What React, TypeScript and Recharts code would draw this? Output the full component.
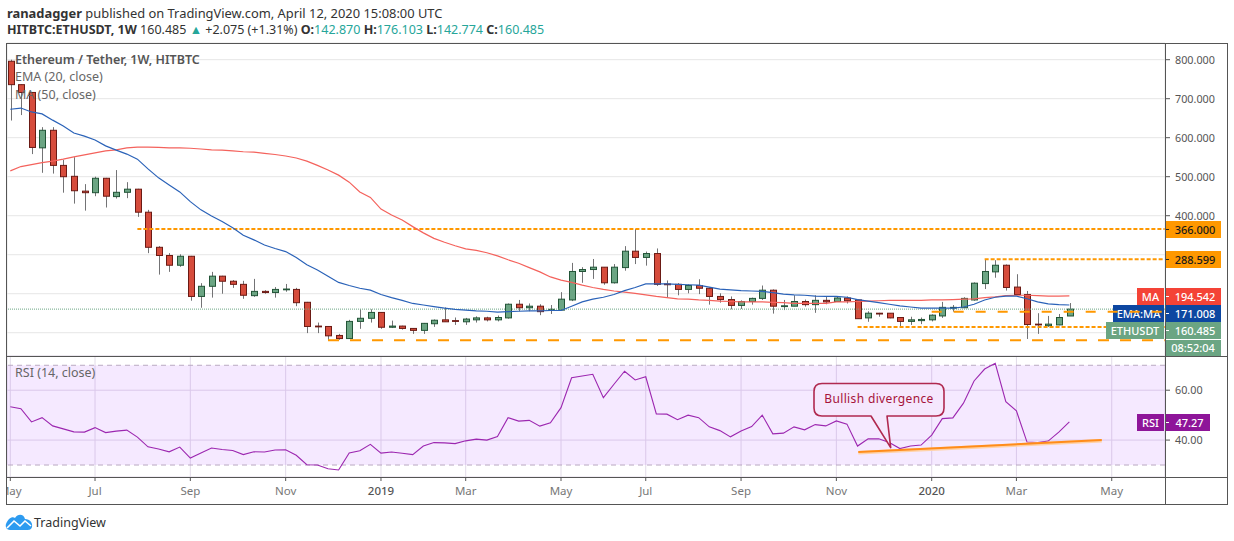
import React from "react";
import { ComposedChart, Bar, Line, XAxis, YAxis, CartesianGrid, ReferenceLine, ReferenceArea } from "recharts";

const opens = [
  796,736,716,574,619,529,501,463,459,496,
  449,460,468,409,319,298,273,296,193,219,
  245,232,224,195,206,203,210,211,178,117,
  116,93,85,129,137,152,114,117,111,106,
  123,133,131,128,133,138,133,138,173,164,
  168,157,158,184,257,262,268,228,267,309,
  293,303,225,224,211,221,214,193,185,170,
  180,188,209,167,168,180,172,183,180,189,
  184,138,150,150,139,129,131,133,143,163,
  164,184,226,256,273,217,198,122,118,120,
  142.87];
const closes = [
  736,716,575,619,529,500,464,459,496,450,
  460,468,409,319,298,273,296,193,219,245,
  232,224,196,206,203,211,212,177,116,115,
  92,85,129,137,152,114,117,111,106,124,
  132,128,129,135,138,133,139,173,164,168,
  154,160,186,257,262,268,228,268,309,293,
  303,224,223,211,221,214,193,185,170,180,
  188,209,168,169,180,172,183,179,189,182,
  136,150,148,138,129,133,134,145,165,165,
  188,227,257,273,216,198,121,120,122,139,
  160.485];
const highs = [
  800,737,717,627,627,543,550,481,500,497,
  517,486,469,415,322,304,301,297,227,256,
  246,235,233,238,209,217,225,215,179,126,
  117,97,133,160,160,153,131,118,112,125,
  134,165,139,138,142,141,144,175,184,175,
  173,171,204,279,268,289,268,276,322,366,
  308,316,234,227,224,237,216,201,193,183,
  190,221,211,184,196,185,196,192,194,193,
  185,155,151,150,140,141,139,147,179,171,
  191,229,288,286,275,250,207,150,143,148,
  176.103];
const lows = [
  644,658,558,510,508,459,431,413,450,421,
  444,445,397,304,249,256,269,182,164,190,
  200,215,187,192,200,190,205,168,99,99,
  81,82,84,110,126,110,112,108,97,97,
  115,128,120,120,126,129,129,136,155,155,
  145,148,158,181,228,238,223,226,259,276,
  272,220,190,196,201,199,172,177,160,161,
  172,184,149,158,168,167,151,173,179,175,
  136,128,141,137,113,120,122,129,138,154,
  163,182,212,241,208,198,84,97,115,119,
  142.774];
const ema20 = [
  673,676,666,661,645,630,612,604,594,579,
  568,558,545,520,497,479,461,436,415,399,
  385,369,350,338,325,316,308,293,274,261,
  245,229,221,214,209,198,190,183,175,171,
  167,163,160,158,156,155,153,154,155,156,
  156,157,157,168,179,186,191,198,208,216,
  225,225,225,224,223,222,217,212,210,208,
  207,206,203,199,197,196,194,193,193,191,
  185,181,177,173,169,166,163,163,163,163,
  166,173,184,191,194,194,187,179,174,172,
  171.008];
const ma50 = [
  515,526,531,536,540,545,551,556,561,566,
  569,574,576,576,575,574,574,573,571,569,
  568,566,564,563,560,557,553,548,540,529,
  517,504,486,461,447,417,402,389,372,356,
  342,332,323,315,311,305,297,287,278,267,
  256,243,235,229,222,216,211,207,204,201,
  197,193,190,187,186,184,183,181,180,179,
  179,179,178,177,175,175,175,175,179,179,
  180,181,182,183,183,183,183,184,184,185,
  186,187,190,192,195,196,196,195,194,194,
  194.542];
const rsi14 = [
  53.4,52.6,47.3,49,45.7,44.5,43.3,43.2,45,43,
  43.6,44,41.2,37.3,36.4,35.3,37.2,32.8,34.8,36.8,
  36.2,35.8,34.2,35.3,35.2,36,36.1,33.9,30.1,30,
  28.5,28,34.8,35.7,38.3,34.8,35.2,34.7,34.2,37.6,
  39,38.9,38.6,39.7,40.4,40,41.4,49,47.6,47.9,
  45.6,46.9,53,65,65.7,66.4,57,62.4,67.6,64.1,
  65.4,50.5,50.4,48.2,50,49,45.3,43.8,41.3,43.6,
  45.4,50,42.5,42.8,45.3,44.1,46.2,45.7,47.7,46.4,
  37.6,40.5,40.5,39,36.6,37.6,38,42,48.6,48.9,
  54.8,63.7,68.5,70.8,55.4,51.7,39.2,39,39.6,43.2,
  47.27];

const tickWeeks = [0, 8, 17, 26, 35, 43, 52, 60, 69, 78, 87, 95, 104];
const tickLabels = ["May", "Jul", "Sep", "Nov", "2019", "Mar", "May", "Jul", "Sep", "Nov", "2020", "Mar", "May"];
const priceTicks = [100, 200, 300, 400, 500, 600, 700, 800];
const rsiTicks = [40, 60];

const rows = opens.map((open, week) => ({
  week,
  open,
  high: highs[week],
  low: lows[week],
  close: closes[week],
  ema: ema20[week],
  ma: ma50[week],
  rsi: rsi14[week],
}));

const FONT = "'Noto Sans', sans-serif";
const X_DOMAIN: [number, number] = [-0.3116, 109.03];
const PRICE_DOMAIN: [number, number] = [40.3, 842.8];
const RSI_DOMAIN: [number, number] = [25.2, 73.72];
const ORANGE = "#ff9800";
const GRID = "#e6e6e6";
const GREEN = "#6ba583";

function Candle(props: any) {
  const { x, y, width, height, payload } = props;
  if (!payload) return null;
  const top = Math.min(y, y + height);
  const span = Math.abs(height);
  const range = payload.high - payload.low || 1;
  const at = (v: number) => top + ((payload.high - v) / range) * span;
  const up = payload.close >= payload.open;
  const bodyTop = at(Math.max(payload.open, payload.close));
  const bodyBot = at(Math.min(payload.open, payload.close));
  const cx = Math.round(x + width / 2) + 0.5;
  return (
    <g>
      <line x1={cx} x2={cx} y1={top} y2={top + span} stroke="#737375" strokeWidth={1} />
      <rect
        x={cx - 3}
        y={bodyTop}
        width={6}
        height={Math.max(bodyBot - bodyTop, 0.6)}
        fill={up ? GREEN : "#d64c3c"}
        stroke={up ? "#225437" : "#6b1a14"}
        strokeWidth={1}
      />
    </g>
  );
}

function TimeTick(props: any) {
  const { x, y, payload } = props;
  const i = tickWeeks.indexOf(payload.value);
  const label = tickLabels[i];
  const year = label === "2019" || label === "2020";
  return (
    <text x={x} y={y + 12} textAnchor="middle" fontFamily={FONT} fontSize={11.5} fill={year ? "#555" : "#777"} fontWeight={year ? 500 : 400}>
      {label}
    </text>
  );
}

function Badge({ left, top, width, height = 17, bg, color = "#fff", text, mark = false }: any) {
  return (
    <div
      style={{
        position: "absolute",
        left,
        top,
        width,
        height,
        background: bg,
        color,
        fontFamily: FONT,
        fontSize: 11,
        fontWeight: 500,
        lineHeight: `${height}px`,
        textAlign: "center",
        whiteSpace: "nowrap",
        paddingLeft: mark ? 4 : 0,
        boxSizing: "border-box",
      }}
    >
      {mark && <span style={{ position: "absolute", left: 0, top: Math.floor(height / 2), width: 4, height: 1, background: color === "#fff" ? "#fff" : "#222" }} />}
      {text}
    </div>
  );
}

function Rule({ left, top, width, height }: any) {
  return <div style={{ position: "absolute", left, top, width, height, background: "#555" }} />;
}

function PaneLabel({ top, text, weight = 400, color = "#666" }: any) {
  return (
    <div style={{ position: "absolute", left: 15, top, fontFamily: FONT, fontSize: 12.5, fontWeight: weight, color, lineHeight: "16px", whiteSpace: "nowrap" }}>
      {text}
    </div>
  );
}

const layer: React.CSSProperties = { position: "absolute", left: 7, top: 0, width: 1220, height: 541, overflow: "hidden" };
const teal = { color: "#26a69a" };

export default function App() {
  return (
    <div style={{ position: "absolute", left: 0, top: 0, width: 1234, height: 541, background: "#fff", overflow: "hidden" }}>
      {/* price pane */}
      <div style={layer}>
        <ComposedChart width={1220} height={541} data={rows} margin={{ top: 43, right: 0, bottom: 185, left: 0 }}>
          <CartesianGrid stroke={GRID} strokeWidth={1} />
          <XAxis dataKey="week" type="number" domain={X_DOMAIN} ticks={tickWeeks} allowDataOverflow height={0} tick={false} axisLine={false} tickLine={false} interval={0} />
          <YAxis
            orientation="right"
            width={62}
            domain={PRICE_DOMAIN}
            ticks={priceTicks}
            allowDataOverflow
            axisLine={false}
            tickSize={5}
            tickMargin={5}
            interval={0}
            tick={{ fontFamily: FONT, fontSize: 10.8, fill: "#555" }}
            tickLine={{ stroke: "#555" }}
            tickFormatter={(v: number) => (v >= 400 ? v.toFixed(3) : "")}
          />
          <ReferenceLine y={160.485} stroke={GREEN} strokeDasharray="1 1" strokeWidth={1} />
          <ReferenceLine segment={[{ x: 12, y: 366 }, { x: 109, y: 366 }]} stroke={ORANGE} strokeWidth={2} strokeDasharray="4 2" />
          <ReferenceLine segment={[{ x: 92, y: 288.599 }, { x: 109, y: 288.599 }]} stroke={ORANGE} strokeWidth={2} strokeDasharray="4 2" />
          <ReferenceLine segment={[{ x: 30, y: 81 }, { x: 109, y: 81 }]} stroke={ORANGE} strokeWidth={2} strokeDasharray="11 11" />
          <ReferenceLine segment={[{ x: 80, y: 114.6 }, { x: 109, y: 114.6 }]} stroke={ORANGE} strokeWidth={2} strokeDasharray="4 2" />
          <Line dataKey="ma" stroke="#f4625c" strokeWidth={1.2} dot={false} isAnimationActive={false} />
          <Line dataKey="ema" stroke="#2a62b8" strokeWidth={1.2} dot={false} isAnimationActive={false} />
          <Bar dataKey={(d: any) => [d.low, d.high]} barSize={7} shape={<Candle />} isAnimationActive={false} />
        </ComposedChart>
      </div>

      {/* price badges */}
      <Badge left={1165} top={221} width={56} bg={ORANGE} color="#1a1a1a" text="366.000" mark />
      <Badge left={1165} top={251} width={56} bg={ORANGE} color="#1a1a1a" text="288.599" mark />
      <Badge left={1137} top={288} width={27} bg="#f44336" text="MA" />
      <Badge left={1165} top={288} width={56} bg="#f44336" text="194.542" mark />
      <Badge left={1113} top={305} width={51} bg="#0d47a1" text="EMA:MA" />
      <Badge left={1165} top={305} width={56} bg="#0d47a1" text="171.008" mark />
      <Badge left={1106} top={322} width={58} bg={GREEN} text="ETHUSDT" />
      <Badge left={1165} top={322} width={56} bg={GREEN} text="160.485" mark />
      <Badge left={1165} top={340} width={56} height={16} bg={GREEN} text="08:52:04" />

      {/* dashed level that runs over the badges */}
      <div style={layer}>
        <ComposedChart width={1220} height={541} data={rows} margin={{ top: 43, right: 62, bottom: 185, left: 0 }}>
          <XAxis dataKey="week" type="number" domain={X_DOMAIN} allowDataOverflow hide />
          <YAxis domain={PRICE_DOMAIN} allowDataOverflow hide />
          <ReferenceLine segment={[{ x: 87, y: 154 }, { x: 109, y: 154 }]} stroke={ORANGE} strokeWidth={2} strokeDasharray="10 12" />
        </ComposedChart>
      </div>

      {/* RSI pane */}
      <div style={layer}>
        <ComposedChart width={1220} height={541} data={rows} margin={{ top: 356, right: 0, bottom: 37, left: 0 }}>
          <ReferenceArea y1={30} y2={70} fill="#9c27ff" fillOpacity={0.1} stroke="none" ifOverflow="extendDomain" />
          <CartesianGrid stroke="#e2dbe8" strokeWidth={1} />
          <XAxis
            dataKey="week"
            type="number"
            domain={X_DOMAIN}
            ticks={tickWeeks}
            allowDataOverflow
            height={27}
            axisLine={false}
            tickSize={4}
            tickLine={{ stroke: "#555" }}
            interval={0}
            tick={<TimeTick />}
          />
          <YAxis
            orientation="right"
            width={62}
            domain={RSI_DOMAIN}
            ticks={rsiTicks}
            allowDataOverflow
            axisLine={false}
            tickSize={5}
            tickMargin={5}
            interval={0}
            tick={{ fontFamily: FONT, fontSize: 10.8, fill: "#555" }}
            tickLine={{ stroke: "#555" }}
            tickFormatter={(v: number) => v.toFixed(2)}
          />
          <ReferenceLine y={70} stroke="#b9a9c2" strokeDasharray="5 4" strokeWidth={1} />
          <ReferenceLine y={30} stroke="#b9a9c2" strokeDasharray="5 4" strokeWidth={1} />
          <Line dataKey="rsi" stroke="#9c27b0" strokeWidth={1.1} dot={false} isAnimationActive={false} />
          <ReferenceLine segment={[{ x: 80.07, y: 34.9 }, { x: 103.06, y: 39.7 }]} stroke="#ffd2a6" strokeWidth={3.5} />
          <ReferenceLine segment={[{ x: 80.07, y: 35.2 }, { x: 103.06, y: 40 }]} stroke="#ff8c1a" strokeWidth={2} />
        </ComposedChart>
      </div>

      {/* callout */}
      <svg width={1234} height={541} style={{ position: "absolute", left: 0, top: 0, pointerEvents: "none" }}>
        <path
          d="M822,383.5 H936 Q944,383.5 944,391.5 V408 Q944,416 936,416 H887 L890.7,447.7 L871,416 H822 Q814,416 814,408 V391.5 Q814,383.5 822,383.5 Z"
          fill="#f5e7fd"
          stroke="#b0294f"
          strokeWidth={1.6}
          strokeLinejoin="round"
        />
        <text x={879} y={398.3} dominantBaseline="central" textAnchor="middle" fontFamily={FONT} fontSize={12} letterSpacing={0.35} fill="#a5133a">
          Bullish divergence
        </text>
        <g transform="translate(6,515)">
          <path d="M0,9 C2,4 6,1 9,3 C12,-2 18,-1 19,4 C24,4 27,8 26,12 C25,15 23,15 20,15 L4,15 C1,15 -1,12 0,9 Z" fill="#2d9bf0" />
          <path d="M1,13 L8,6 L14,11 L19,6 L25,11" fill="none" stroke="#fff" strokeWidth={1.6} />
        </g>
      </svg>

      <Badge left={1137} top={414} width={27} bg="#8e1599" text="RSI" />
      <Badge left={1165} top={414} width={45} bg="#8e1599" text="47.27" mark />

      {/* frame */}
      <Rule left={6} top={43} width={1222} height={1} />
      <Rule left={6} top={356} width={1222} height={1} />
      <Rule left={6} top={477} width={1222} height={1} />
      <Rule left={6} top={504} width={1222} height={1} />
      <Rule left={6} top={43} width={1} height={462} />
      <Rule left={1165} top={43} width={1} height={462} />
      <Rule left={1227} top={43} width={1} height={462} />

      {/* legends */}
      <PaneLabel top={52} text="Ethereum / Tether, 1W, HITBTC" weight={600} color="#555" />
      <PaneLabel top={69} text="EMA (20, close)" />
      <PaneLabel top={87} text="MA (50, close)" />
      <PaneLabel top={365} text="RSI (14, close)" />

      {/* header */}
      <div style={{ position: "absolute", left: 7, top: 4, fontFamily: FONT, fontSize: 12.9, color: "#333", lineHeight: "18px", whiteSpace: "nowrap" }}>
        <b>ranadagger</b> published on TradingView.com, April 12, 2020 15:08:00 UTC
      </div>
      <div style={{ position: "absolute", left: 7, top: 21, fontFamily: FONT, fontSize: 12.5, color: "#333", lineHeight: "18px", whiteSpace: "nowrap" }}>
        <b>HITBTC:ETHUSDT, 1W</b> 160.485 <span style={teal}>▲</span> +2.075 (+1.31%) <b>O:</b><span style={teal}>142.870</span> <b>H:</b><span style={teal}>176.103</span> <b>L:</b><span style={teal}>142.774</span> <b>C:</b><span style={teal}>160.485</span>
      </div>

      {/* logo text */}
      <div style={{ position: "absolute", left: 34, top: 514, fontFamily: FONT, fontSize: 12.5, color: "#333", lineHeight: "18px" }}>TradingView</div>
    </div>
  );
}
